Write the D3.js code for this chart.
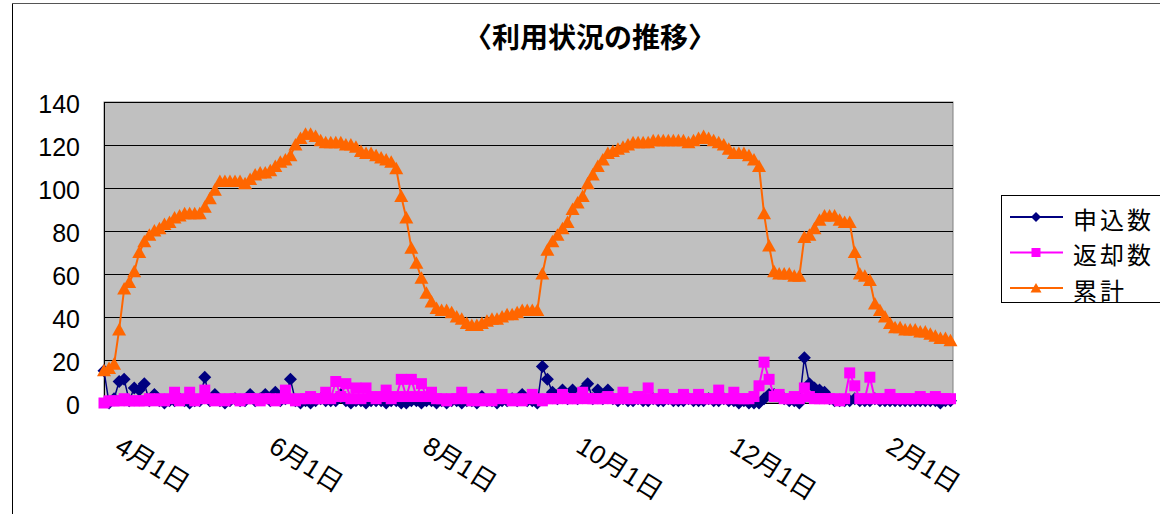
<!DOCTYPE html>
<html>
<head>
<meta charset="utf-8">
<script src="https://cdn.jsdelivr.net/npm/d3@7"></script>
<style>
  body { margin: 0; background: #fff; }
  text { font-family: "Liberation Sans", "Noto Sans CJK JP", sans-serif; }
</style>
</head>
<body>
<svg id="chart" width="1160" height="514"></svg>
<script>
// one point every 2 days, first point on 3/27
const startDate = new Date(2006, 2, 27)
const endDate = new Date(2007, 1, 27)
const stepDays = 2

const tickDates = [new Date(2006, 3, 1), new Date(2006, 5, 1), new Date(2006, 7, 1),
                   new Date(2006, 9, 1), new Date(2006, 11, 1), new Date(2007, 1, 1)]
const tickLabels = ['4月1日', '6月1日', '8月1日', '10月1日', '12月1日', '2月1日']
const yTicks = [0, 20, 40, 60, 80, 100, 120, 140]
const seriesNames = ['申込数', '返却数', '累計']

const applied = [
  15,0,2,10,11,1,7,6,9,1,
  4,1,0,1,1,2,1,0,1,1,
  12,1,4,1,0,1,2,1,1,4,
  1,2,4,1,5,1,2,11,1,0,
  1,0,1,2,1,1,1,4,1,0,
  1,1,0,1,1,1,0,1,1,0,
  0,1,1,0,1,1,0,1,0,1,
  1,0,1,1,0,3,1,1,0,1,
  1,2,1,4,1,1,0,17,11,5,
  2,6,2,6,2,6,9,2,6,2,
  6,2,1,2,1,1,2,1,1,2,
  1,1,2,1,1,1,2,1,1,1,
  2,1,1,2,1,1,0,1,0,0,
  0,2,4,4,3,2,1,1,0,21,
  9,7,6,5,2,1,1,1,1,2,
  1,1,1,2,1,1,1,1,1,1,
  1,1,1,1,1,1,0,1,1
]

const returned = [
  0,1,1,1,2,1,1,1,1,2,
  1,2,1,2,5,1,2,5,1,2,
  6,2,1,2,1,2,2,1,2,2,
  2,1,2,2,1,2,6,2,1,2,
  2,3,2,2,5,2,10,3,9,2,
  7,2,7,3,2,3,6,2,3,11,
  3,11,3,9,3,5,2,2,1,2,
  2,5,2,1,2,1,2,1,2,4,
  2,1,2,1,2,4,2,1,2,2,
  2,4,2,2,2,5,2,2,2,2,
  3,2,2,5,2,2,3,2,7,2,
  2,4,2,2,2,4,2,2,4,2,
  2,2,6,2,2,5,2,2,2,3,
  8,19,11,3,4,2,2,3,2,7,
  3,2,2,2,2,2,1,2,14,8,
  2,2,12,2,2,2,4,2,2,2,
  2,2,3,2,2,3,2,2,2
]

const total = [
  15,16,18,34,53,56,61,70,75,78,
  80,81,83,84,86,87,88,88,88,88,
  91,95,99,103,103,103,103,103,102,104,
  106,107,107,108,110,112,113,115,120,123,
  125,125,124,122,121,121,121,121,120,120,
  119,117,116,116,115,114,113,112,109,96,
  86,72,65,58,51,47,44,43,43,42,
  40,39,37,36,36,37,38,39,39,40,
  41,41,42,43,43,43,43,60,71,75,
  78,81,84,90,93,96,102,106,110,113,
  116,117,118,119,120,121,121,121,121,122,
  122,122,122,122,122,122,121,122,123,124,
  123,122,121,120,118,116,116,116,115,113,
  110,88,73,61,60,60,60,59,59,77,
  78,81,85,87,87,87,85,84,84,70,
  60,59,57,46,43,40,37,35,35,34,
  34,34,33,33,32,31,30,30,29
]

const colors = ['#000080', '#ff00ff', '#ff6600']
const shapes = [
  'M0,-6.5L6.5,0L0,6.5L-6.5,0Z',
  'M-5.5,-5.5H5.5V5.5H-5.5Z',
  'M0,-7L7,5.5L-7,5.5Z'
]
const legendShapes = [
  'M0,-5L5,0L0,5L-5,0Z',
  'M-4.5,-4.5H4.5V4.5H-4.5Z',
  'M0,-5L5.5,4.5L-5.5,4.5Z'
]

const svg = d3.select('#chart')

const plotLeft = 104, plotRight = 953, plotTop = 102, plotBottom = 403

const x = d3.scaleTime().domain([startDate, endDate]).range([plotLeft, plotRight])
const y = d3.scaleLinear().domain([0, 140]).range([plotBottom, plotTop])

const dateAt = i => d3.timeDay.offset(startDate, i * stepDays)

// chart frame (right and bottom fall outside the picture)
svg.append('line').attr('x1', 12.5).attr('x2', 12.5).attr('y1', 3).attr('y2', 514)
  .attr('stroke', '#000')
svg.append('line').attr('x1', 12).attr('x2', 1160).attr('y1', 3.5).attr('y2', 3.5)
  .attr('stroke', '#555')

svg.append('text')
  .attr('x', 590).attr('y', 48)
  .attr('text-anchor', 'middle')
  .style('font-family', '"Noto Sans CJK JP", sans-serif')
  .style('font-weight', 'bold')
  .style('font-size', '28px')
  .text('〈利用状況の推移〉')

// plot area
svg.append('rect')
  .attr('x', plotLeft).attr('y', plotTop)
  .attr('width', plotRight - plotLeft).attr('height', plotBottom - plotTop)
  .attr('fill', '#c0c0c0').attr('stroke', '#808080')

svg.append('g')
  .selectAll('line')
  .data(yTicks.filter(d => d > 0))
  .enter()
  .append('line')
  .attr('x1', plotLeft).attr('x2', plotRight)
  .attr('y1', d => y(d) + 0.5).attr('y2', d => y(d) + 0.5)
  .attr('stroke', '#000')

svg.append('line')
  .attr('x1', plotLeft + 0.5).attr('x2', plotLeft + 0.5).attr('y1', plotTop).attr('y2', plotBottom)
  .attr('stroke', '#000')
svg.append('line')
  .attr('x1', plotLeft).attr('x2', plotRight).attr('y1', plotBottom + 0.5).attr('y2', plotBottom + 0.5)
  .attr('stroke', '#000')

svg.append('g')
  .selectAll('text')
  .data(yTicks)
  .enter()
  .append('text')
  .attr('x', 80).attr('y', d => y(d) + 2)
  .attr('text-anchor', 'end')
  .attr('dominant-baseline', 'central')
  .style('font-size', '25px')
  .text(d => d)

svg.append('g')
  .selectAll('text')
  .data(tickDates)
  .enter()
  .append('text')
  .attr('transform', d => `translate(${x(d) + 8},433) rotate(32)`)
  .attr('dy', '0.8em')
  .style('font-size', '26px')
  .text((d, i) => tickLabels[i])

// series, drawn in Excel order so 累計 sits on top
const line = d3.line().x((d, i) => x(dateAt(i))).y(d => y(d))

;[applied, returned, total].forEach((values, k) => {
  const g = svg.append('g')
  g.append('path')
    .attr('d', line(values))
    .attr('fill', 'none')
    .attr('stroke', colors[k])
    .attr('stroke-width', k === 0 ? 1.5 : 2)
  g.selectAll('path.mark')
    .data(values)
    .enter()
    .append('path')
    .attr('class', 'mark')
    .attr('d', shapes[k])
    .attr('transform', (d, i) => `translate(${x(dateAt(i))},${y(d)})`)
    .attr('fill', colors[k])
})

// legend
const legend = svg.append('g')
legend.append('rect')
  .attr('x', 1001.5).attr('y', 195.5).attr('width', 170).attr('height', 107)
  .attr('fill', '#fff').attr('stroke', '#000')

const rows = legend.selectAll('g')
  .data(seriesNames)
  .enter()
  .append('g')
  .attr('transform', (d, i) => `translate(0,${217 + i * 35.5})`)

rows.append('line')
  .attr('x1', 1010).attr('x2', 1063)
  .attr('stroke', (d, i) => colors[i]).attr('stroke-width', 2)
rows.append('path')
  .attr('d', (d, i) => legendShapes[i])
  .attr('transform', 'translate(1036,0)')
  .attr('fill', (d, i) => colors[i])
rows.append('text')
  .attr('x', 1073).attr('y', 1)
  .attr('dominant-baseline', 'central')
  .style('font-family', '"Noto Sans CJK JP", sans-serif')
  .style('font-size', '24px')
  .style('letter-spacing', '3px')
  .text(d => d)
</script>
</body>
</html>
